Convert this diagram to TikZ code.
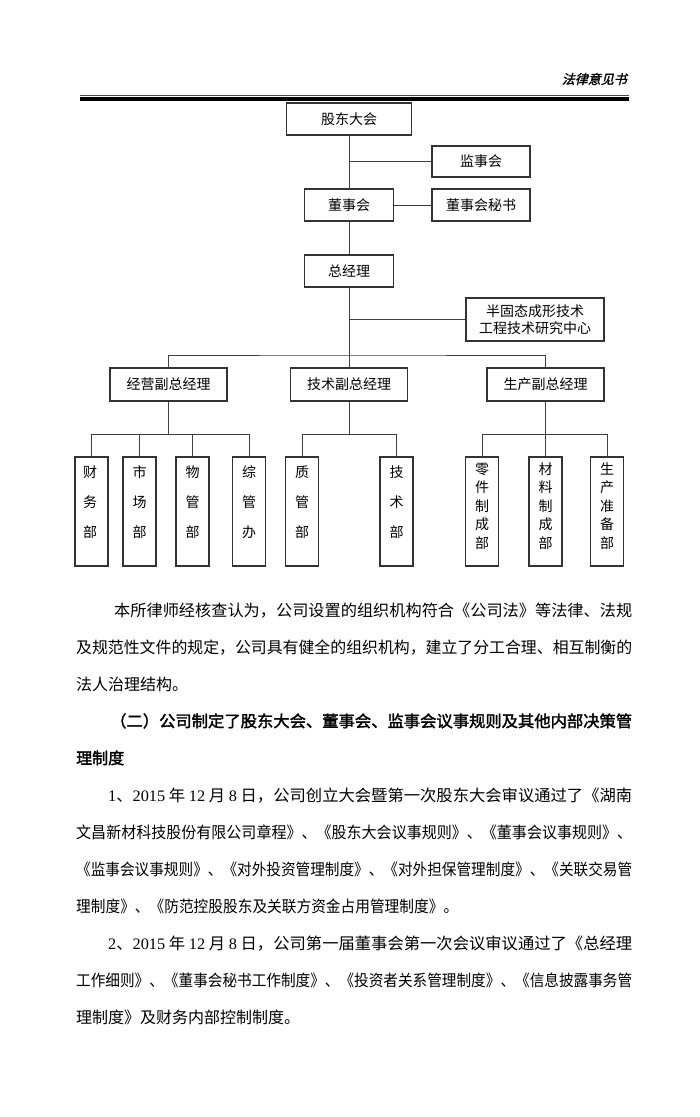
\documentclass[tikz,border=0pt]{standalone}
\usepackage{fontspec}
\usepackage{graphicx}
\setmainfont{Liberation Serif}
\newfontfamily\cjk{Noto Sans CJK SC}
\newfontfamily\cjkb{Noto Sans CJK SC}[FakeBold=2]
\newfontfamily\cjkhead{Noto Sans CJK SC}[FakeBold=1.5,FakeSlant=0.25]
\newfontfamily\lat{Liberation Serif}
\newcommand\jl[2]{\resizebox{#1pt}{\height}{#2}}
\newcommand\dg[1]{{\lat #1}}
\definecolor{boxc}{gray}{0.2}
\definecolor{linec}{gray}{0.25}
\begin{document}
\begin{tikzpicture}[x=1pt,y=-1pt,
  box/.style={draw=boxc,line width=1.1pt,inner sep=0pt,font=\cjk\fontsize{14}{17}\selectfont,align=center},
  tallbox/.style={draw=boxc,line width=1.1pt,inner sep=0pt,minimum width=33pt,minimum height=109pt},
  tthree/.style={font=\cjk\fontsize{14}{30}\selectfont,align=center,inner sep=0pt},
  tfive/.style={font=\cjk\fontsize{14}{18.5}\selectfont,align=center,inner sep=0pt},
  ln/.style={draw=linec,line width=0.9pt},
  body/.style={font=\cjk\fontsize{16}{16}\selectfont,anchor=base west,inner sep=0pt},
  bodyb/.style={font=\cjkb\fontsize{16}{16}\selectfont,anchor=base west,inner sep=0pt},
]
\fill[white] (0,0) rectangle (700,1117);
\useasboundingbox (0,0) rectangle (700,1117);

% header
\node[font=\cjkhead\fontsize{13}{13}\selectfont,anchor=east,inner sep=0pt] (hd) at (627,79) {法律意见书};
\draw[line width=1.2pt,color=gray!60!black] (80,95.8) -- (629,95.8);
\draw[line width=4pt] (80,99) -- (629,99);

% chart boxes
\node[box,minimum width=125pt,minimum height=32pt] (gd) at (349,119) {股东大会};
\node[box,minimum width=98pt,minimum height=31pt] (jsh) at (481,161.5) {监事会};
\node[box,minimum width=89pt,minimum height=32pt] (dsh) at (349,205) {董事会};
\node[box,minimum width=98pt,minimum height=32pt] (ms) at (481,205) {董事会秘书};
\node[box,minimum width=89pt,minimum height=32pt] (zjl) at (349,271) {总经理};
\node[box,minimum width=138pt,minimum height=43pt,font=\cjk\fontsize{14}{17}\selectfont] (bgt) at (535,319.5) {半固态成形技术\\工程技术研究中心};
\node[box,minimum width=117pt,minimum height=33pt] (jy) at (168.5,384.5) {经营副总经理};
\node[box,minimum width=117pt,minimum height=33pt] (jsf) at (349,384.5) {技术副总经理};
\node[box,minimum width=117pt,minimum height=33pt] (scf) at (545.5,384.5) {生产副总经理};

% tall boxes
\node[tallbox] (cw) at (91.5,511.5) {};
\node[tallbox] (sch) at (139.5,511.5) {};
\node[tallbox] (wg) at (192.5,511.5) {};
\node[tallbox] (zg) at (249,511.5) {};
\node[tallbox] (zl) at (302,511.5) {};
\node[tallbox] (jsb) at (396.5,511.5) {};
\node[tallbox] (lj) at (482,511.5) {};
\node[tallbox] (cl) at (545.5,511.5) {};
\node[tallbox] (zb) at (607,511.5) {};

\node[tthree] (cw-t) at (90,502) {财\\务\\部};
\node[tthree] (sch-t) at (139.5,502) {市\\场\\部};
\node[tthree] (wg-t) at (192.5,502) {物\\管\\部};
\node[tthree] (zg-t) at (249,502) {综\\管\\办};
\node[tthree] (zl-t) at (302,502) {质\\管\\部};
\node[tthree] (jsb-t) at (396.5,502) {技\\术\\部};
\node[tfive] (lj-t) at (482,506) {零\\件\\制\\成\\部};
\node[tfive] (cl-t) at (545.5,506) {材\\料\\制\\成\\部};
\node[tfive] (zb-t) at (607,506) {生\\产\\准\\备\\部};

% connectors
\coordinate (bus) at (349,355);
\coordinate (sub) at (0,434);
\draw[ln] (gd.south) -- (dsh.north);
\draw[ln] (jsh.west -| gd.south) -- (jsh.west);
\draw[ln] (dsh.east) -- (ms.west);
\draw[ln] (dsh.south) -- (zjl.north);
\draw[ln] (zjl.south) -- (bus);
\draw[ln] (bgt.west -| zjl.south) -- (bgt.west);
\draw[ln] (jy.north) |- (bus) -| (scf.north);
\draw[ln] (bus) -- (jsf.north);

\draw[ln] (jy.south) -- (jy.south |- sub);
\draw[ln] (cw.north) |- (zg.north |- sub) -- (zg.north);
\draw[ln] (sch.north) -- (sch.north |- sub);
\draw[ln] (wg.north) -- (wg.north |- sub);

\draw[ln] (jsf.south) -- (jsf.south |- sub);
\draw[ln] (zl.north) |- (jsb.north |- sub) -- (jsb.north);

\draw[ln] (scf.south) -- (cl.north);
\draw[ln] (lj.north) |- (zb.north |- sub) -- (zb.north);

% body text
\node[body] (p1a) at (114,616) {\jl{518}{本所律师经核查认为，公司设置的组织机构符合《公司法》等法律、法规}};
\node[body] (p1b) at (76,653) {\jl{556}{及规范性文件的规定，公司具有健全的组织机构，建立了分工合理、相互制衡的}};
\node[body] (p1c) at (76,690) {法人治理结构。};

\node[bodyb] (h1) at (110,727) {\jl{522}{（二）公司制定了股东大会、董事会、监事会议事规则及其他内部决策管}};
\node[bodyb] (h2) at (76,764) {理制度};

\node[body] (p2a) at (108,801) {\jl{524}{\dg{1}、\dg{2015} 年 \dg{12} 月 \dg{8} 日，公司创立大会暨第一次股东大会审议通过了《湖南}};
\node[body] (p2b) at (76,838) {\jl{556}{文昌新材科技股份有限公司章程》、《股东大会议事规则》、《董事会议事规则》、}};
\node[body] (p2c) at (76,875) {\jl{556}{《监事会议事规则》、《对外投资管理制度》、《对外担保管理制度》、《关联交易管}};
\node[body] (p2d) at (76,912) {\jl{382}{理制度》、《防范控股股东及关联方资金占用管理制度》。}};

\node[body] (p3a) at (108,949) {\jl{524}{\dg{2}、\dg{2015} 年 \dg{12} 月 \dg{8} 日，公司第一届董事会第一次会议审议通过了《总经理}};
\node[body] (p3b) at (76,986) {\jl{556}{工作细则》、《董事会秘书工作制度》、《投资者关系管理制度》、《信息披露事务管}};
\node[body] (p3c) at (76,1023) {理制度》及财务内部控制制度。};
\end{tikzpicture}
\end{document}
